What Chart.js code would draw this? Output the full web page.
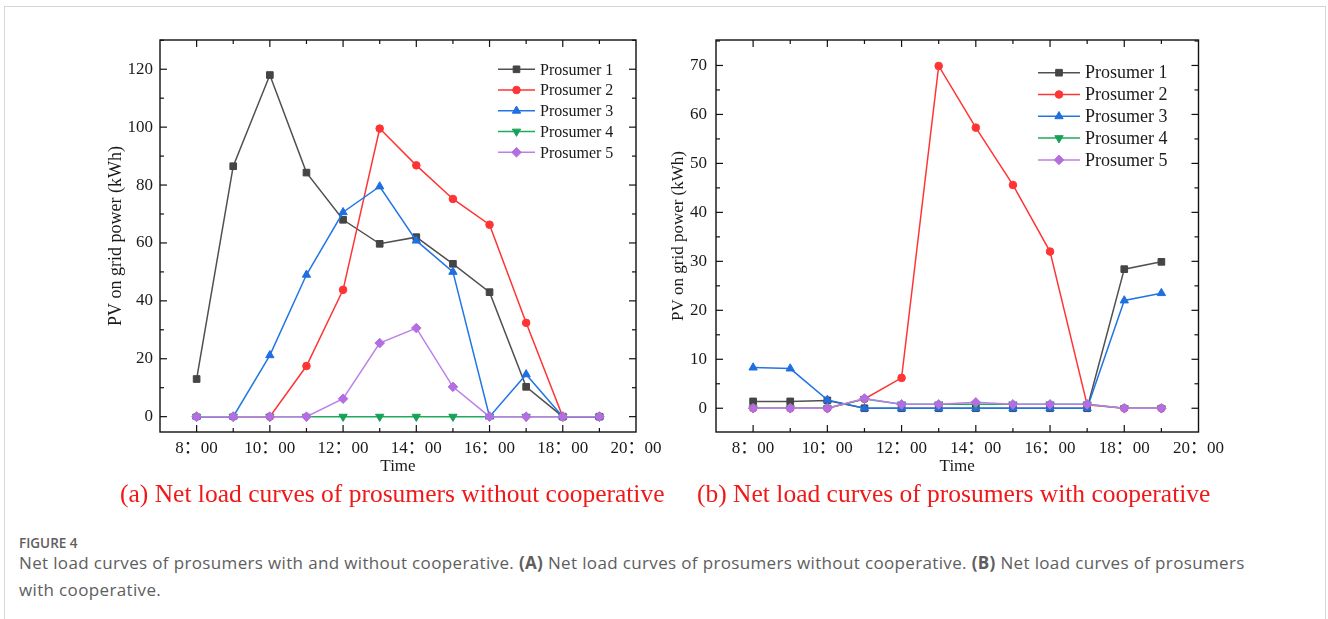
<!DOCTYPE html>
<html>
<head>
<meta charset="utf-8">
<script src="https://cdn.jsdelivr.net/npm/chart.js"></script>
<style>
  html, body { margin: 0; padding: 0; background: #fff; }
  body { width: 1328px; height: 619px; position: relative; overflow: hidden; }
  .frame { position: absolute; left: 4px; top: 6px; width: 1322px; height: 660px;
           border: 1.5px solid #d6d6d6; box-sizing: border-box; }
  canvas { position: absolute; top: 0; }
  #chartA { left: 100px; }
  #chartB { left: 660px; }
  .sub { position: absolute; top: 479px; font-family: 'Liberation Serif', serif; font-size: 25.5px;
         line-height: 30px; color: #f01818; white-space: nowrap; }
  .fig { position: absolute; left: 19px; top: 534px; font-family: 'Open Sans', sans-serif;
         font-weight: 600; font-size: 13.5px; color: #5e5e5e; }
  .cap { position: absolute; left: 19px; top: 549px; font-family: 'Open Sans', sans-serif;
         font-size: 17px; letter-spacing: 0.35px; line-height: 27px; color: #5e5e5e; white-space: nowrap; }
</style>
</head>
<body>
<div class="frame"></div>
<canvas id="chartA" width="570" height="480"></canvas>
<canvas id="chartB" width="570" height="480"></canvas>
<div class="sub" style="left:120px">(a) Net load curves of prosumers without cooperative</div>
<div class="sub" style="left:697px">(b) Net load curves of prosumers with cooperative</div>
<div class="fig">FIGURE 4</div>
<div class="cap">Net load curves of prosumers with and without cooperative. <b>(A)</b> Net load curves of prosumers without cooperative. <b>(B)</b> Net load curves of prosumers<br>with cooperative.</div>

<script>
// ===== DATA =====
const hours = [8, 9, 10, 11, 12, 13, 14, 15, 16, 17, 18, 19];
const seriesNames = ['Prosumer 1', 'Prosumer 2', 'Prosumer 3', 'Prosumer 4', 'Prosumer 5'];

// (a) without cooperative
const p1A = [13, 86.5, 118, 84.3, 68, 59.7, 62, 52.8, 43, 10.3, 0, 0];
const p2A = [0, 0, 0, 17.5, 43.8, 99.5, 86.8, 75.2, 66.3, 32.4, 0, 0];
const p3A = [0, 0, 21.2, 49, 70.6, 79.5, 60.8, 50, 0, 14.6, 0, 0];
const p4A = [0, 0, 0, 0, 0, 0, 0, 0, 0, 0, 0, 0];
const p5A = [0, 0, 0, 0, 6.2, 25.4, 30.6, 10.3, 0, 0, 0, 0];

// (b) with cooperative
const p1B = [1.4, 1.4, 1.6, 0, 0, 0, 0, 0, 0, 0, 28.4, 29.9];
const p2B = [0, 0, 0, 1.9, 6.2, 69.9, 57.3, 45.6, 32.0, 0.7, 0, 0];
const p3B = [8.3, 8.1, 1.7, 0, 0, 0, 0, 0, 0, 0, 22.0, 23.5];
const p4B = [0, 0, 0, 1.9, 0.8, 0.8, 0.8, 0.8, 0.8, 0.8, 0, 0];
const p5B = [0, 0, 0, 2.0, 0.8, 0.8, 1.2, 0.8, 0.8, 0.8, 0, 0];

// tick labels / axis ranges
const xTicks = [8, 10, 12, 14, 16, 18, 20];
const xRange = [7, 20];
const yTicksA = [0, 20, 40, 60, 80, 100, 120];
const yRangeA = [-5.3, 130.1];
const yTicksB = [0, 10, 20, 30, 40, 50, 60, 70];
const yRangeB = [-4.85, 75.2];

const xTitle = 'Time';
const yTitle = 'PV on grid power (kWh)';

// ===== STYLES =====
const seriesStyles = [
    { color: '#454545', line: '#505050', pointStyle: 'rect', radius: 4.7, rotation: 0 },
    { color: '#ff3434', line: '#ff3434', pointStyle: 'circle', radius: 3.8, rotation: 0 },
    { color: '#1f6fe0', line: '#2176e6', pointStyle: 'triangle', radius: 4.8, rotation: 0 },
    { color: '#17a158', line: '#1faa5e', pointStyle: 'triangle', radius: 4.8, rotation: 180 },
    { color: '#b46ee2', line: '#bd80e8', pointStyle: 'rectRot', radius: 4.8, rotation: 0 }
];

const SERIF = "'Liberation Serif', 'Noto Sans CJK SC', serif";
const TEXT = '#1a1a1a';

// simple point drawer in case Chart.helpers is missing
function drawMarker(ctx, style, radius, rotation, x, y) {
    if (window.Chart && Chart.helpers && Chart.helpers.drawPoint) {
        Chart.helpers.drawPoint(ctx, { pointStyle: style, radius: radius, rotation: rotation, borderWidth: 1 }, x, y);
        return;
    }
    ctx.beginPath();
    ctx.arc(x, y, radius, 0, Math.PI * 2);
    ctx.fill();
}

// Frame with inward ticks on all sides
const framePlugin = {
    id: 'frame',
    afterDraw(chart, args, opts) {
        const { ctx, chartArea: a, scales: { x, y } } = chart;
        ctx.save();
        ctx.strokeStyle = '#111';
        ctx.lineWidth = 1.4;
        ctx.strokeRect(a.left, a.top, a.right - a.left, a.bottom - a.top);
        ctx.lineWidth = 1.2;
        const seg = (x1, y1, x2, y2) => {
            ctx.beginPath(); ctx.moveTo(x1, y1); ctx.lineTo(x2, y2); ctx.stroke();
        };
        const MAJ = 7, MIN = 4;

        // x ticks, every hour, labelled ones longer
        for (let h = Math.ceil(x.min); h <= x.max; h++) {
            const px = x.getPixelForValue(h);
            if (px <= a.left + 1 || px >= a.right - 1) continue;
            const len = opts.xMajor.includes(h) ? MAJ : MIN;
            seg(px, a.bottom, px, a.bottom - len);
            seg(px, a.top, px, a.top + len);
        }

        // y ticks, major + half-step minor
        const step = opts.yMajor[1] - opts.yMajor[0];
        const half = step / 2;
        for (let v = Math.ceil(y.min / half) * half; v <= y.max; v += half) {
            const py = y.getPixelForValue(v);
            const len = Math.abs(v % step) < 1e-6 ? MAJ : MIN;
            seg(a.left, py, a.left + len, py);
            seg(a.right, py, a.right - len, py);
        }
        ctx.restore();
    }
};

// Legend drawn inside the plot area
const innerLegend = {
    id: 'innerLegend',
    afterDraw(chart, args, o) {
        const { ctx, chartArea: a } = chart;
        ctx.save();
        ctx.font = o.fontSize + 'px ' + SERIF;
        ctx.textBaseline = 'middle';
        chart.data.datasets.forEach((ds, i) => {
            const yy = a.top + o.top + i * o.gap;
            const x0 = a.left + o.left;
            ctx.strokeStyle = ds.borderColor;
            ctx.lineWidth = ds.borderWidth;
            ctx.beginPath();
            ctx.moveTo(x0, yy);
            ctx.lineTo(x0 + o.lineLen, yy);
            ctx.stroke();
            ctx.fillStyle = ds.pointBackgroundColor;
            ctx.strokeStyle = ds.pointBorderColor;
            ctx.lineWidth = 1;
            drawMarker(ctx, ds.pointStyle, ds.pointRadius, ds.pointRotation, x0 + o.lineLen / 2, yy);
            ctx.fillStyle = TEXT;
            ctx.fillText(ds.label, x0 + o.lineLen + o.textGap, yy + 1);
        });
        ctx.restore();
    }
};

function makeDatasets(seriesValues) {
    return seriesValues.map((vals, i) => {
        const s = seriesStyles[i];
        return {
            label: seriesNames[i],
            data: hours.map((h, k) => ({ x: h, y: vals[k] })),
            borderColor: s.line,
            backgroundColor: s.color,
            pointBackgroundColor: s.color,
            pointBorderColor: s.color,
            pointBorderWidth: 1,
            pointStyle: s.pointStyle,
            pointRotation: s.rotation,
            pointRadius: s.radius,
            borderWidth: 1.5,
            tension: 0,
            order: seriesValues.length - i
        };
    });
}

function makeChart(id, seriesValues, yRange, yTicks, cfg) {
    const ctx = document.getElementById(id).getContext('2d');
    return new Chart(ctx, {
        type: 'line',
        data: { datasets: makeDatasets(seriesValues) },
        plugins: [framePlugin, innerLegend],
        options: {
            responsive: false,
            animation: false,
            devicePixelRatio: 1,
            events: [],
            layout: { padding: { left: 0, right: cfg.padRight, top: 40, bottom: 0 } },
            plugins: {
                legend: { display: false },
                tooltip: { enabled: false },
                frame: { xMajor: xTicks, yMajor: yTicks },
                innerLegend: cfg.legend
            },
            scales: {
                x: {
                    type: 'linear',
                    min: xRange[0],
                    max: xRange[1],
                    afterBuildTicks: (scale) => { scale.ticks = xTicks.map(v => ({ value: v })); },
                    afterFit: (scale) => { scale.height = 48; },
                    grid: { display: false, drawTicks: false },
                    border: { display: false },
                    ticks: {
                        autoSkip: false,
                        maxRotation: 0,
                        padding: 6,
                        color: TEXT,
                        font: { family: SERIF, size: 17 },
                        callback: (v) => v + '：00'
                    },
                    title: {
                        display: true,
                        text: xTitle,
                        color: TEXT,
                        font: { family: SERIF, size: 17 },
                        padding: { top: 0, bottom: 3 }
                    }
                },
                y: {
                    min: yRange[0],
                    max: yRange[1],
                    afterBuildTicks: (scale) => { scale.ticks = yTicks.map(v => ({ value: v })); },
                    afterFit: (scale) => { scale.width = cfg.yWidth; },
                    grid: { display: false, drawTicks: false },
                    border: { display: false },
                    ticks: {
                        padding: cfg.yTickPad,
                        color: TEXT,
                        font: { family: SERIF, size: 17 }
                    },
                    title: {
                        display: true,
                        text: yTitle,
                        color: TEXT,
                        font: { family: SERIF, size: cfg.yTitleSize },
                        padding: { top: cfg.yTitlePad, bottom: 0 }
                    }
                }
            }
        }
    });
}

makeChart('chartA', [p1A, p2A, p3A, p4A, p5A], yRangeA, yTicksA, {
    padRight: 34, yWidth: 60, yTickPad: 7, yTitleSize: 18, yTitlePad: 5,
    legend: { left: 338, top: 29.3, gap: 20.75, lineLen: 37, textGap: 5, fontSize: 16 }
});

makeChart('chartB', [p1B, p2B, p3B, p4B, p5B], yRangeB, yTicksB, {
    padRight: 29, yWidth: 56, yTickPad: 9, yTitleSize: 17, yTitlePad: 8,
    legend: { left: 322, top: 32.7, gap: 21.8, lineLen: 42, textGap: 5, fontSize: 18 }
});
</script>
</body>
</html>
